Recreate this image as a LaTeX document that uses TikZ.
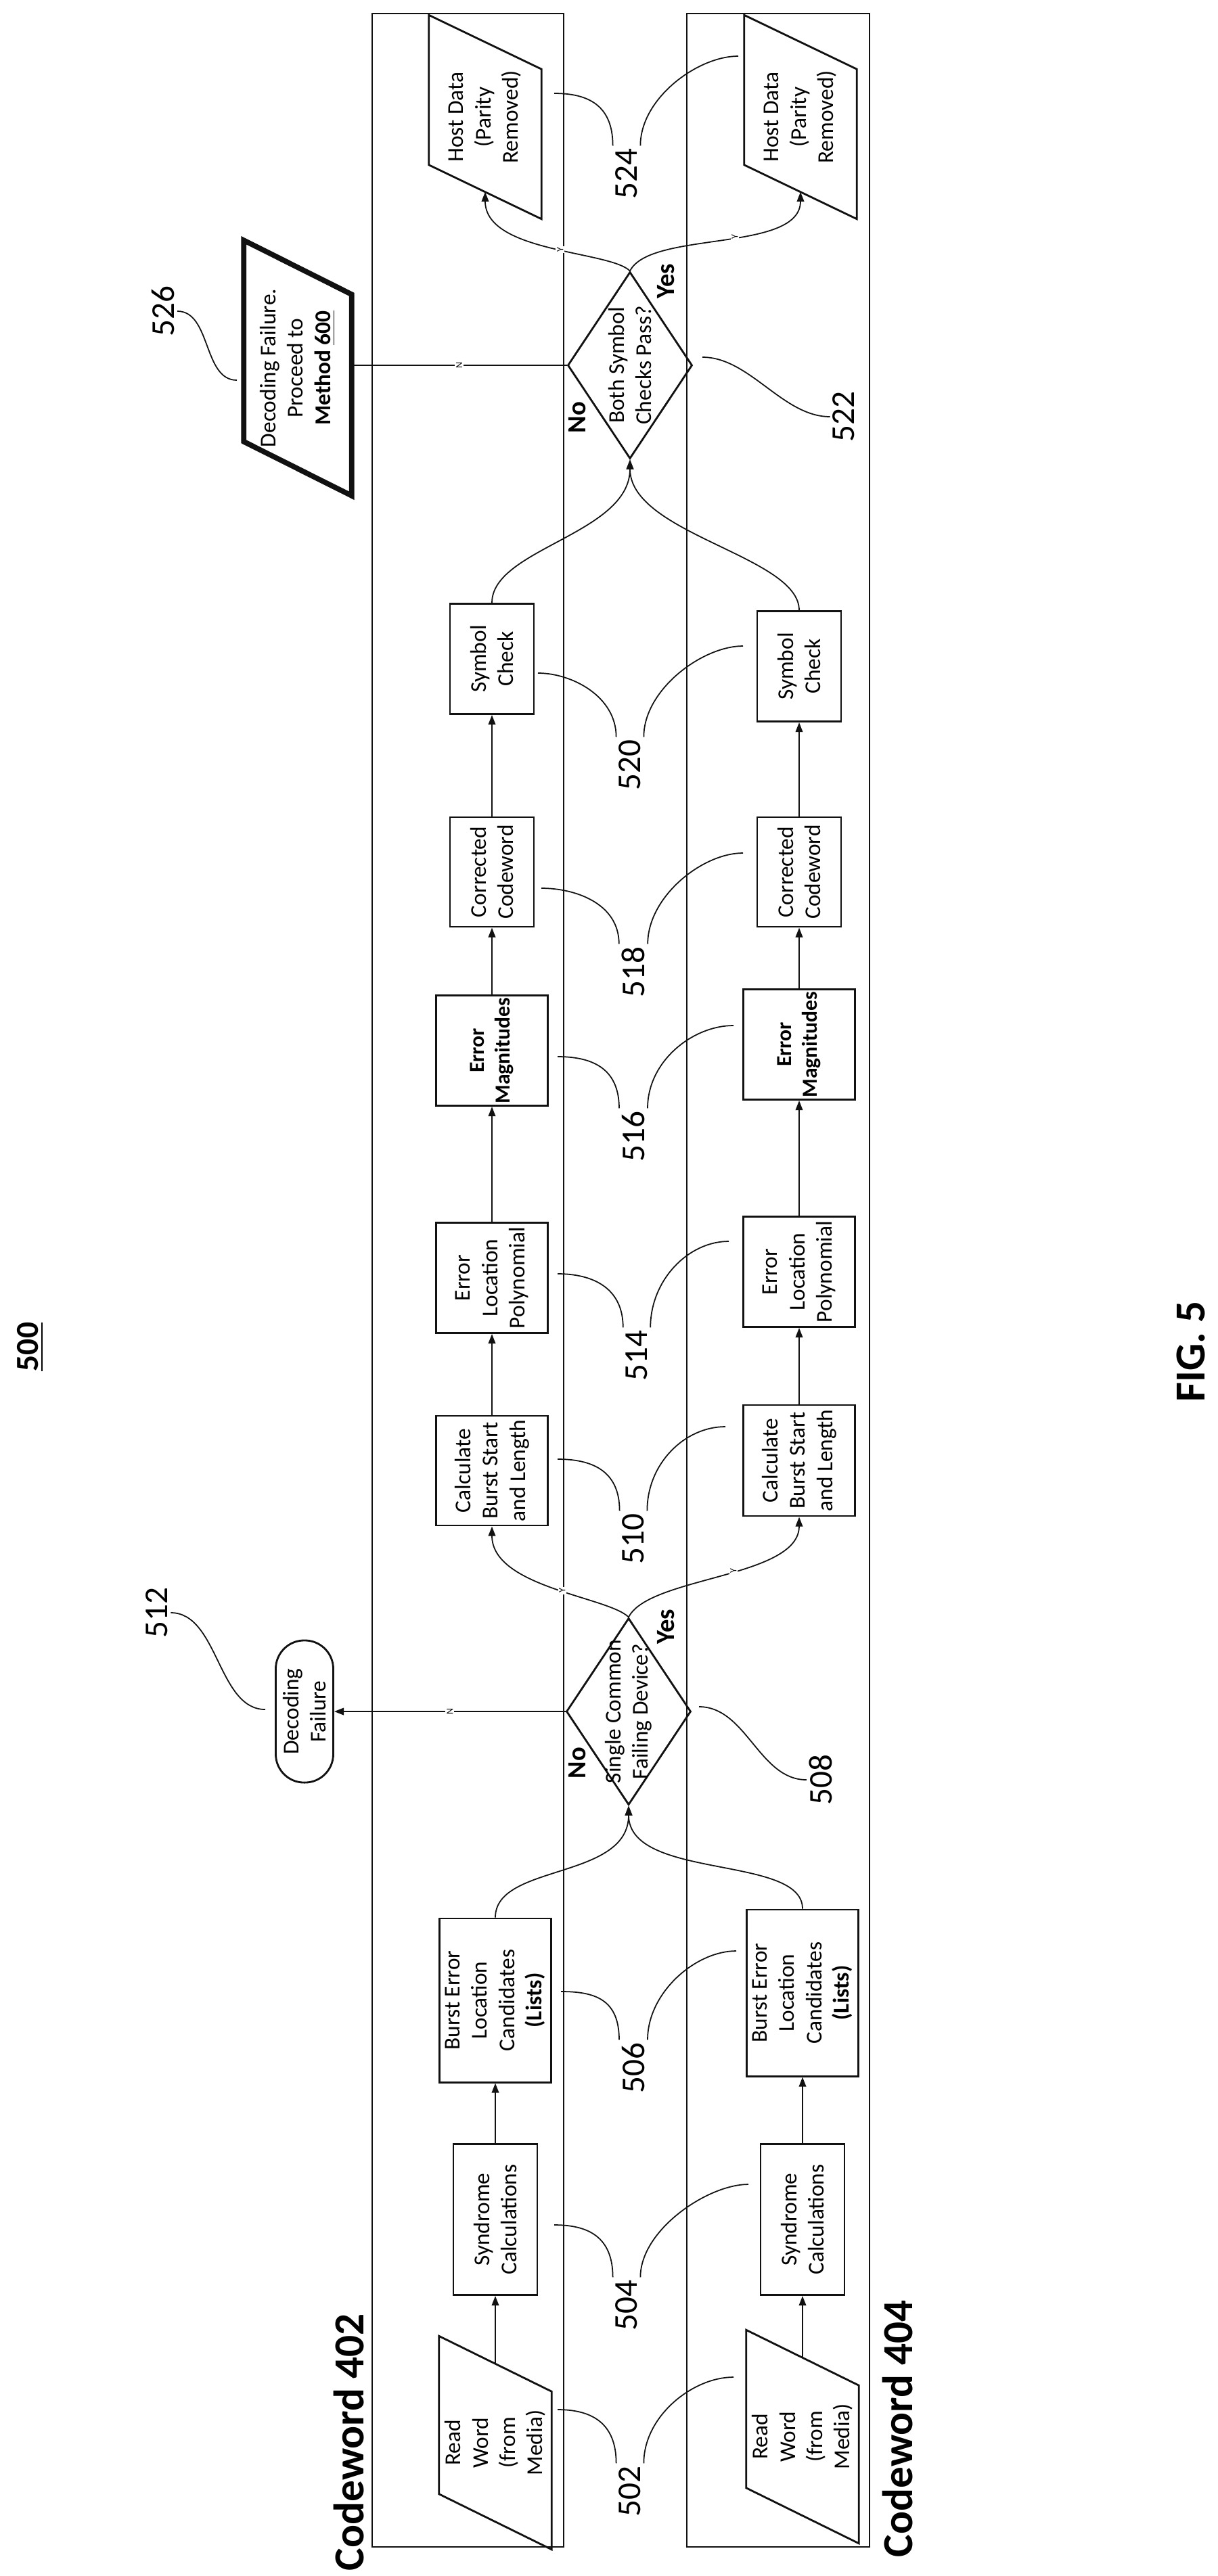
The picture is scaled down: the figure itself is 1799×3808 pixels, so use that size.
\documentclass[tikz,border=0pt]{standalone}
\usepackage{fontspec}
\setmainfont{Carlito}
\usetikzlibrary{shapes.geometric, arrows.meta, positioning, calc}
\definecolor{inkBlack}{HTML}{111111}
\newcommand{\boxfont}{\fontsize{9.5}{11.5}\selectfont}
\tikzset{
    lane/.style={draw=inkBlack, line width=0.5pt},
    stage/.style={draw=inkBlack, line width=0.8pt, rotate=90, align=center, inner sep=0pt, font=\boxfont},
    decision/.style={draw=inkBlack, line width=0.8pt, shape=diamond, rotate=90, inner sep=0pt, minimum width=2.76cm, minimum height=1.84cm},
    flow/.style={draw=inkBlack, line width=0.5pt, -{Triangle[length=4pt, width=3pt]}},
    leader/.style={draw=inkBlack, line width=0.5pt},
    tag/.style={rotate=90, fill=white, inner sep=0.5pt, font=\fontsize{4}{4}\selectfont},
    answer/.style={rotate=90, font=\bfseries\fontsize{11}{11}\selectfont},
    refnum/.style={rotate=90, inner sep=1pt, font=\fontsize{14}{14}\selectfont}
}
% name, x, y, length, width, slant, style, text
\newcommand{\SlantBox}[8]{
    \node[rotate=90, minimum width=#4, minimum height=#5, align=center, inner sep=0pt, font=\boxfont] (#1) at (#2,#3) {#8};
    \draw[#7] ($(#1.north east)+(0,-#6)$) -- ($(#1.south east)+(0,#6)$) -- ($(#1.south west)+(0,#6)$) -- ($(#1.north west)+(0,-#6)$) -- cycle;
}

\begin{document}
\begin{tikzpicture}[x=0.01cm, y=-0.01cm]
    \useasboundingbox (0,0) rectangle (1799,3808);

    % Lanes
    \draw[lane] (550,20) rectangle (833,3765);
    \draw[lane] (1015,20) rectangle (1285,3765);
    \node[answer, font=\bfseries\fontsize{18}{18}\selectfont] (cw402) at (516,3610) {Codeword 402};
    \node[answer, font=\bfseries\fontsize{18}{18}\selectfont] (cw404) at (1327,3590) {Codeword 404};
    \node[answer, font=\bfseries\fontsize{13.5}{13.5}\selectfont] (fignum) at (45,1991) {\underline{500}};
    \node[answer, font=\bfseries\fontsize{18}{18}\selectfont] (figlabel) at (1760,1998) {FIG. 5};

    % Codeword 402
    \SlantBox{read1}{732}{3611}{2.32cm}{1.65cm}{41}{draw=inkBlack, line width=0.8pt}{Read\\Word\\(from\\Media)}
    \node[stage, minimum width=2.23cm, minimum height=1.24cm] (syn1) at (732,3281) {Syndrome\\Calculations};
    \node[stage, minimum width=2.42cm, minimum height=1.65cm] (burst1) at (732,2957) {Burst Error\\Location\\Candidates\\\textbf{(Lists)}};
    \node[stage, minimum width=1.62cm, minimum height=1.65cm] (calc1) at (727,2174) {Calculate\\Burst Start\\and Length};
    \node[stage, minimum width=1.63cm, minimum height=1.65cm] (poly1) at (727,1889) {Error\\Location\\Polynomial};
    \node[stage, minimum width=1.63cm, minimum height=1.65cm, font=\bfseries\fontsize{9}{11}\selectfont] (mag1) at (727,1553) {Error\\Magnitudes};
    \node[stage, minimum width=1.62cm, minimum height=1.24cm] (corr1) at (727,1289) {Corrected\\Codeword};
    \node[stage, minimum width=1.63cm, minimum height=1.24cm] (sym1) at (727,974) {Symbol\\Check};
    \SlantBox{host1}{717}{173}{2.2cm}{1.65cm}{40}{draw=inkBlack, line width=0.8pt}{Host Data\\(Parity\\Removed)}

    % Codeword 404
    \SlantBox{read2}{1186}{3602}{2.32cm}{1.65cm}{41}{draw=inkBlack, line width=0.8pt}{Read\\Word\\(from\\Media)}
    \node[stage, minimum width=2.23cm, minimum height=1.24cm] (syn2) at (1186,3281) {Syndrome\\Calculations};
    \node[stage, minimum width=2.46cm, minimum height=1.65cm] (burst2) at (1186,2946) {Burst Error\\Location\\Candidates\\\textbf{(Lists)}};
    \node[stage, minimum width=1.64cm, minimum height=1.65cm] (calc2) at (1181,2159) {Calculate\\Burst Start\\and Length};
    \node[stage, minimum width=1.63cm, minimum height=1.65cm] (poly2) at (1181,1880) {Error\\Location\\Polynomial};
    \node[stage, minimum width=1.63cm, minimum height=1.65cm, font=\bfseries\fontsize{9}{11}\selectfont] (mag2) at (1181,1544) {Error\\Magnitudes};
    \node[stage, minimum width=1.62cm, minimum height=1.24cm] (corr2) at (1181,1289) {Corrected\\Codeword};
    \node[stage, minimum width=1.63cm, minimum height=1.24cm] (sym2) at (1181,985) {Symbol\\Check};
    \SlantBox{host2}{1183}{173}{2.2cm}{1.65cm}{40}{draw=inkBlack, line width=0.8pt}{Host Data\\(Parity\\Removed)}

    % Decisions and failures
    \node[decision] (d508) at (929,2530) {};
    \node[rotate=90, align=center, font=\boxfont] (d508text) at (d508) {Single Common\\Failing Device?};
    \node[decision] (d522) at (931,540) {};
    \node[rotate=90, align=center, font=\boxfont] (d522text) at (d522) {Both Symbol\\Checks Pass?};
    \node[stage, minimum width=2.1cm, minimum height=0.85cm, rounded corners=0.42cm] (f512) at (450,2530) {Decoding\\Failure};
    \SlantBox{f526}{440}{544}{2.96cm}{1.58cm}{40}{draw=inkBlack, line width=2.2pt}{Decoding Failure.\\Proceed to\\\textbf{Method \underline{600}}}

    \node[answer] (no508) at (853,2606) {No};
    \node[answer] (yes508) at (984,2405) {Yes};
    \node[answer] (no522) at (853,617) {No};
    \node[answer] (yes522) at (984,416) {Yes};

    % Flow
    \foreach \a/\b in {read1/syn1, syn1/burst1, calc1/poly1, poly1/mag1, mag1/corr1, corr1/sym1,
                       read2/syn2, syn2/burst2, calc2/poly2, poly2/mag2, mag2/corr2, corr2/sym2} {
        \draw[flow] (\a.east) -- (\b.west);
    }
    \draw[flow] (burst1.east) .. controls +(0,-80) and +(0,110) .. (d508.west);
    \draw[flow] (burst2.east) .. controls +(0,-80) and +(0,110) .. (d508.west);
    \draw[flow] (d508.north) -- node[tag] {N} (f512.south);
    \draw[flow] (d508.east) .. controls +(-30,-30) and +(0,90) .. node[tag, pos=0.45] {Y} (calc1.west);
    \draw[flow] (d508.east) .. controls +(30,-60) and +(0,90) .. node[tag, pos=0.55] {Y} (calc2.west);

    \draw[flow] (sym1.east) .. controls +(0,-80) and +(0,110) .. (d522.west);
    \draw[flow] (sym2.east) .. controls +(0,-80) and +(0,110) .. (d522.west);
    \draw[leader] (d522.north) -- node[tag] {N} ($(f526.south)+(0,-4)$);
    \draw[flow] (d522.east) .. controls +(-30,-30) and +(0,90) .. node[tag, pos=0.45] {Y} (host1.west);
    \draw[flow] (d522.east) .. controls +(30,-60) and +(0,90) .. node[tag, pos=0.55] {Y} (host2.west);

    % Reference numerals
    \foreach \n/\lx/\ly/\ax/\ay/\bx/\by in {
        502/931/3683/824/3562/1084/3514, 504/926/3408/819/3289/1106/3229,
        506/936/3057/829/2944/1088/2884, 510/936/2275/824/2157/1072/2109,
        514/941/2004/824/1883/1077/1835, 516/936/1680/824/1562/1084/1516,
        518/936/1437/800/1313/1098/1261, 520/931/1131/795/995/1098/955,
        524/926/257/819/138/1091/83} {
        \node[refnum] (l\n) at (\lx,\ly) {\n};
        \coordinate (p\n a) at (\ax,\ay);
        \coordinate (p\n b) at (\bx,\by);
        \draw[leader] (l\n.north east) .. controls +(0,-60) and +(50,0) .. (p\n a);
        \draw[leader] (l\n.south east) .. controls +(0,-70) and +(-60,0) .. (p\n b);
    }

    \node[refnum] (l508) at (1213,2631) {508};
    \coordinate (p508) at (1033,2523);
    \draw[leader] (p508) .. controls +(70,0) and +(-70,0) .. (l508.north);
    \node[refnum] (l522) at (1247,616) {522};
    \coordinate (p522) at (1038,528);
    \draw[leader] (p522) .. controls +(70,0) and +(-70,0) .. (l522.north);
    \node[refnum] (l512) at (232,2384) {512};
    \coordinate (p512) at (392,2527);
    \draw[leader] (l512.south) .. controls +(70,0) and +(-70,0) .. (p512);
    \node[refnum] (l526) at (241,460) {526};
    \coordinate (p526) at (350,562);
    \draw[leader] (l526.south) .. controls +(50,0) and +(-50,0) .. (p526);
\end{tikzpicture}
\end{document}
